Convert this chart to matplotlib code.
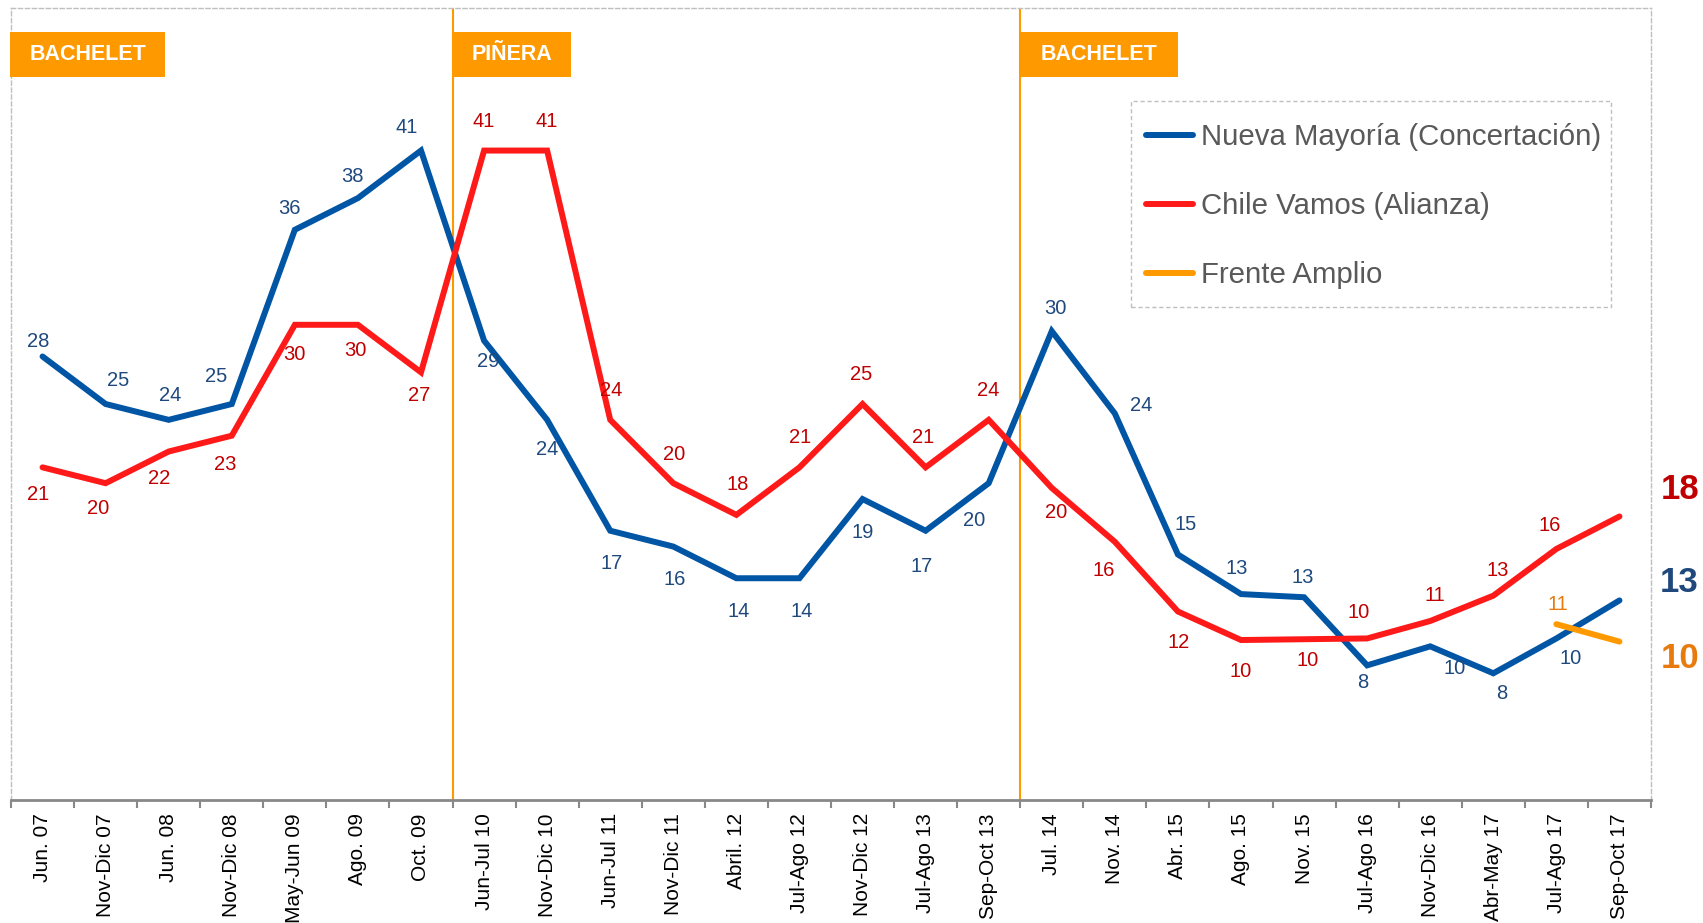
import numpy as np
import matplotlib
matplotlib.use("Agg")
import matplotlib.pyplot as plt
from matplotlib.patches import Rectangle
from matplotlib.transforms import blended_transform_factory

plt.rcParams['font.family'] = ['Liberation Sans', 'DejaVu Sans']

# ---------------- data ----------------
categories = ["Jun. 07", "Nov-Dic 07", "Jun. 08", "Nov-Dic 08", "May-Jun 09", "Ago. 09",
              "Oct. 09", "Jun-Jul 10", "Nov-Dic 10", "Jun-Jul 11", "Nov-Dic 11", "Abril. 12",
              "Jul-Ago 12", "Nov-Dic 12", "Jul-Ago 13", "Sep-Oct 13", "Jul. 14", "Nov. 14",
              "Abr. 15", "Ago. 15", "Nov. 15", "Jul-Ago 16", "Nov-Dic 16", "Abr-May 17",
              "Jul-Ago 17", "Sep-Oct 17"]

nueva_mayoria = [28, 25, 24, 25, 36, 38, 41, 29, 24, 17, 16, 14, 14, 19, 17, 20,
                 29.6, 24.4, 15.5, 13.0, 12.8, 8.5, 9.7, 8.0, 10.2, 12.6]
nueva_mayoria_labels = ["28", "25", "24", "25", "36", "38", "41", "29", "24", "17", "16", "14",
                        "14", "19", "17", "20", "30", "24", "15", "13", "13", "8", "10", "8",
                        "10", "13"]

chile_vamos = [21, 20, 22, 23, 30, 30, 27, 41, 41, 24, 20, 18, 21, 25, 21, 24,
               19.7, 16.3, 11.9, 10.1, 10.15, 10.2, 11.3, 12.9, 15.85, 17.9]
chile_vamos_labels = ["21", "20", "22", "23", "30", "30", "27", "41", "41", "24", "20", "18",
                      "21", "25", "21", "24", "20", "16", "12", "10", "10", "10", "11", "13",
                      "16", "18"]

frente_amplio_idx = [24, 25]
frente_amplio = [11.1, 10.0]
frente_amplio_labels = ["11", "10"]

series_names = ["Nueva Mayoría (Concertación)", "Chile Vamos (Alianza)", "Frente Amplio"]

period_names = ["BACHELET", "PIÑERA", "BACHELET"]
period_starts = [-0.5, 6.5, 15.5]

# ---------------- styles ----------------
C_BLUE = "#0055A4"
C_RED = "#FF1A1A"
C_ORANGE = "#FF9900"
L_BLUE = "#1F497D"
L_RED = "#C00000"
L_ORANGE = "#E87A0E"

# label offsets in pixels (dx, dy)
blue_off = [(-4, 15), (13, 24), (1, 24), (-16, 27), (-5, 21), (-5, 22), (-14, 23),
            (4, -21), (0, -30), (1, -33), (1, -33), (2, -33), (2, -33), (0, -33),
            (-4, -36), (-15, -37), (4, 23), (26, 8), (8, 30), (-4, 26), (-1, 20),
            (-4, -17), (24, -22), (8, -20), (14, -20)]
red_off = [(-4, -27), (-7, -25), (-10, -27), (-7, -29), (0, -30), (-3, -26), (-2, -23),
           (0, 29), (0, 29), (1, 29), (1, 29), (1, 30), (1, 30), (-1, 30), (-2, 30),
           (-1, 29), (4, -25), (-11, -29), (1, -31), (0, -31), (4, -21), (-9, 26),
           (5, 26), (4, 25), (-7, 23)]

W, H = 1703, 923
fig = plt.figure(figsize=(W / 100, H / 100), dpi=100)
ax = fig.add_axes([11 / W, 1 - 800 / H, 1640 / W, 792 / H])

x = np.arange(len(categories))
lw = 4.3
h_blue, = ax.plot(x, nueva_mayoria, color=C_BLUE, lw=lw, solid_joinstyle='miter',
                  solid_capstyle='round', zorder=3, label=series_names[0])
h_red, = ax.plot(x, chile_vamos, color=C_RED, lw=lw, solid_joinstyle='miter',
                 solid_capstyle='round', zorder=3, label=series_names[1])
h_or, = ax.plot(frente_amplio_idx, frente_amplio, color=C_ORANGE, lw=lw,
                solid_capstyle='round', zorder=4, label=series_names[2])

fs = 14.5
for i, (v, t) in enumerate(zip(nueva_mayoria[:-1], nueva_mayoria_labels[:-1])):
    ax.annotate(t, (x[i], v), xytext=blue_off[i], textcoords='offset pixels',
                ha='center', va='center', fontsize=fs, color=L_BLUE, zorder=5)
for i, (v, t) in enumerate(zip(chile_vamos[:-1], chile_vamos_labels[:-1])):
    ax.annotate(t, (x[i], v), xytext=red_off[i], textcoords='offset pixels',
                ha='center', va='center', fontsize=fs, color=L_RED, zorder=5)
ax.annotate(frente_amplio_labels[0], (frente_amplio_idx[0], frente_amplio[0]),
            xytext=(1, 20), textcoords='offset pixels', ha='center', va='center',
            fontsize=fs, color=L_ORANGE, zorder=5)

# big final values
big = 25
ax.annotate(chile_vamos_labels[-1], (x[-1], chile_vamos[-1]), xytext=(61, 27),
            textcoords='offset pixels', ha='center', va='center', fontsize=big,
            fontweight='bold', color=L_RED, annotation_clip=False)
ax.annotate(nueva_mayoria_labels[-1], (x[-1], nueva_mayoria[-1]), xytext=(60, 18),
            textcoords='offset pixels', ha='center', va='center', fontsize=big,
            fontweight='bold', color=L_BLUE, annotation_clip=False)
ax.annotate(frente_amplio_labels[-1], (frente_amplio_idx[-1], frente_amplio[-1]),
            xytext=(61, -17), textcoords='offset pixels', ha='center', va='center',
            fontsize=big, fontweight='bold', color=L_ORANGE, annotation_clip=False)

# period lines and boxes
trans = blended_transform_factory(ax.transData, ax.transAxes)
box_widths = [2.46, 1.88, 2.5]
for name, s, w in zip(period_names, period_starts, box_widths):
    if s > -0.5:
        ax.axvline(s, color=C_ORANGE, lw=1.5, zorder=2)
    s0 = s - 0.016 if s == -0.5 else s
    ax.add_patch(Rectangle((s0, 0.913), w, 0.057, transform=trans, facecolor=C_ORANGE,
                           edgecolor='none', clip_on=False, zorder=6))
    ax.text(s0 + w / 2, 0.9415, name, transform=trans, ha='center', va='center',
            color='white', fontsize=15.5, fontweight='bold', zorder=7)

# axes styling
ax.set_xlim(-0.5, len(categories) - 0.5)
ax.set_ylim(0, 50)
ax.set_yticks([])
for side in ['top', 'right', 'left']:
    ax.spines[side].set_linestyle((0, (3, 2)))
    ax.spines[side].set_color('#BFBFBF')
    ax.spines[side].set_linewidth(1)
ax.spines['bottom'].set_color('#888888')
ax.spines['bottom'].set_linewidth(2)
ax.set_xticks(x)
ax.set_xticklabels(categories, rotation=90, fontsize=15, color='black')
ax.tick_params(axis='x', which='major', length=0, pad=9.5)
ax.set_xticks(np.arange(-0.5, len(categories)), minor=True)
ax.tick_params(axis='x', which='minor', length=6, width=1.5, color='#888888')

# legend (frame drawn separately)
leg = ax.legend(handles=[h_blue, h_red, h_or], loc='upper left',
                bbox_to_anchor=(1125 / W, 1 - 102 / H), bbox_transform=fig.transFigure,
                borderaxespad=0, fontsize=21.2, handlelength=1.6, handletextpad=0.26,
                labelspacing=1.39, borderpad=0.72, frameon=False,
                labelcolor='#595959')
leg.set_zorder(8)
fig.patches.append(Rectangle((1131 / W, 1 - 307 / H), 480 / W, 206 / H,
                             transform=fig.transFigure, facecolor='none',
                             edgecolor='#BFBFBF', linestyle=(0, (3, 2)), linewidth=1,
                             zorder=7))

fig.savefig("out.png", dpi=100)
